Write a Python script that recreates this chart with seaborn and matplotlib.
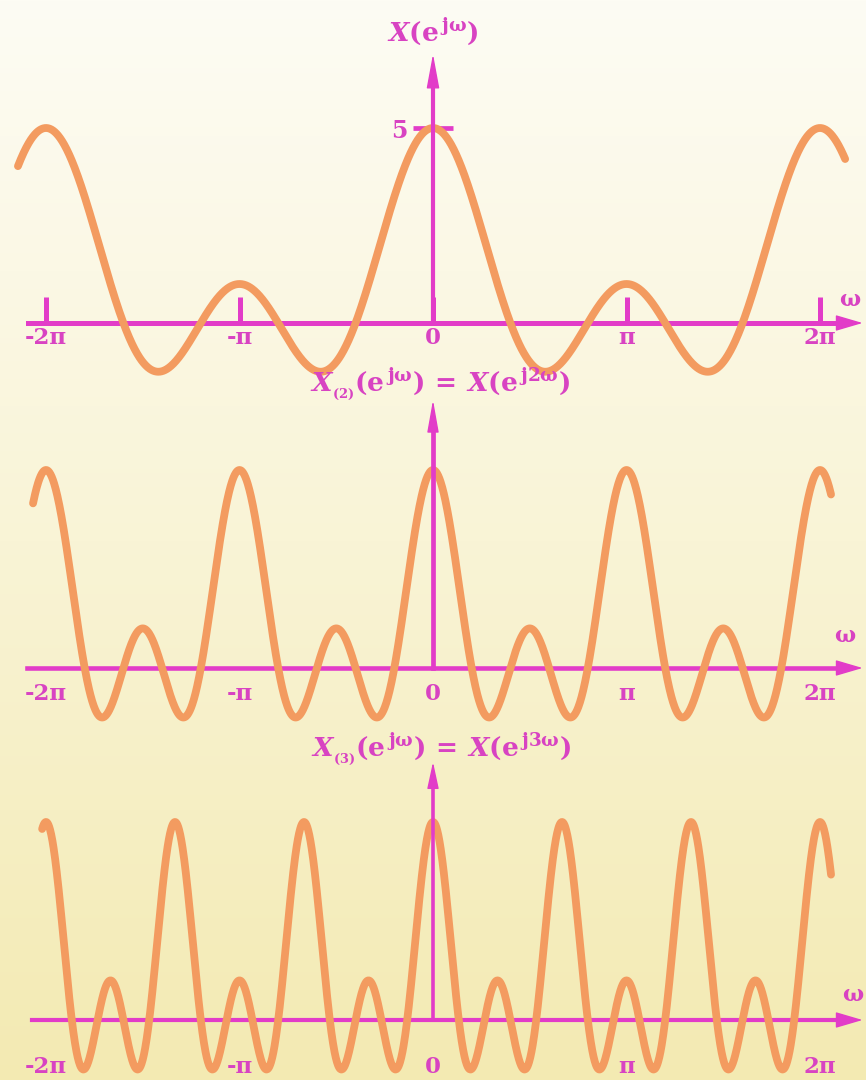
import numpy as np
import pandas as pd
import matplotlib
matplotlib.use("Agg")
import matplotlib.pyplot as plt
import seaborn as sns

# ---------------- data ----------------
# underlying sequence x[n] (rectangular, length 5) whose DTFT is plotted
seq_n = [-2, -1, 0, 1, 2]
seq_x = [1, 1, 1, 1, 1]
# interpolation (zero-insertion) factors of the three panels
factors = [1, 2, 3]
peak_value = 5
tick_pos = [-2, -1, 0, 1, 2]          # in units of pi
tick_labels = ["-2π", "-π", "0", "π", "2π"]
panel_titles = [
    r"$X(\mathrm{e}^{\,\mathrm{j\omega}})$",
    r"$X_{_{(2)}}(\mathrm{e}^{\,\mathrm{j\omega}})\,=\,X(\mathrm{e}^{\,\mathrm{j2\omega}})$",
    r"$X_{_{(3)}}(\mathrm{e}^{\,\mathrm{j\omega}})\,=\,X(\mathrm{e}^{\,\mathrm{j3\omega}})$",
]
axis_name = r"$\mathrm{\omega}$"

# ---------------- style ----------------
sns.set_style("white")
plt.rcParams["font.family"] = ["DejaVu Serif"]
plt.rcParams["font.weight"] = "bold"
plt.rcParams["mathtext.fontset"] = "custom"
plt.rcParams["mathtext.rm"] = "DejaVu Serif:bold"
plt.rcParams["mathtext.it"] = "DejaVu Serif:italic:bold"
plt.rcParams["mathtext.bf"] = "DejaVu Serif:bold"

CURVE = "#F39B60"
AXIS = "#E23CC8"
TEXT = "#D843C2"

W, H = 866, 1080
fig = plt.figure(figsize=(W / 100, H / 100), dpi=100)

# background gradient
rows = np.arange(H)
bg = np.zeros((H, W, 3))
for c, stops in enumerate([(253, 249, 243), (252, 244, 234), (244, 214, 178)]):
    col = np.interp(rows, [0, 540, H - 1], stops) / 255.0
    bg[:, :, c] = col[:, None]
fig.figimage(bg, xo=0, yo=0, origin="upper", zorder=-10)

PX_PER_PI = 193.5
X0 = 433
xlim = (-X0 / PX_PER_PI, (W - X0) / PX_PER_PI)

# layout per panel: pixel rows, axis row, px per unit, etc.
layouts = [
    dict(top=0, bottom=385, axis=323, scale=39.0, curve=(-2.145, 2.13), xstart=-2.093,
         ytip=54, yhead=30, yhw=4.0, xlw=3.6, ylw=3.0, ticklen=18.7, xpad=3,
         title_y=32, title_x=0.0, omega=(850, 300)),
    dict(top=385, bottom=735, axis=668, scale=39.6, curve=(-2.067, 2.057), xstart=-2.098,
         ytip=400, yhead=28, yhw=3.6, xlw=3.3, ylw=3.4, ticklen=0, xpad=11,
         title_y=385, title_x=0.036, omega=(845, 636)),
    dict(top=735, bottom=1080, axis=1020, scale=39.6, curve=(-2.02, 2.057), xstart=-2.07,
         ytip=762, yhead=23, yhw=3.6, xlw=3.0, ylw=2.6, ticklen=0, xpad=26,
         title_y=750, title_x=0.04, omega=(853, 995)),
]

for m, lay, title in zip(factors, layouts, panel_titles):
    ax = fig.add_axes([0, 1 - lay["bottom"] / H, 1, (lay["bottom"] - lay["top"]) / H])
    ax.patch.set_alpha(0)
    sc = lay["scale"]
    ymax = (lay["axis"] - lay["top"]) / sc
    ymin = -(lay["bottom"] - lay["axis"]) / sc
    ax.set_xlim(*xlim)
    ax.set_ylim(ymin, ymax)

    # DTFT of the sequence evaluated at m*omega
    w = np.linspace(lay["curve"][0], lay["curve"][1], 2000)
    Xw = np.zeros_like(w)
    for n, xn in zip(seq_n, seq_x):
        Xw += xn * np.cos(m * np.pi * w * n)
    df = pd.DataFrame({"w": w, "X": Xw})
    sns.lineplot(data=df, x="w", y="X", ax=ax, color=CURVE, linewidth=5.6,
                 solid_capstyle="round", zorder=2, legend=False)
    ax.set_xlabel("")
    ax.set_ylabel("")

    # axes
    for s in ["top", "right"]:
        ax.spines[s].set_visible(False)
    xa_tip = 2.22
    xa_base = xa_tip - 24 / PX_PER_PI
    sb = ax.spines["bottom"]
    sb.set_position(("data", 0))
    sb.set_bounds(lay["xstart"], xa_base + 0.01)
    sb.set_color(AXIS)
    sb.set_linewidth(lay["xlw"])
    sb.set_zorder(1)
    ytip = (lay["axis"] - lay["ytip"]) / sc
    ybase = ytip - lay["yhead"] / sc
    sl = ax.spines["left"]
    sl.set_position(("data", 0))
    sl.set_bounds(0, ybase + 0.05)
    sl.set_color(AXIS)
    sl.set_linewidth(lay["ylw"])
    sl.set_zorder(3)

    ax.annotate("", xy=(xa_tip, 0), xytext=(xa_base, 0),
                arrowprops=dict(arrowstyle="-|>,head_length=17,head_width=5",
                                mutation_scale=1, color=AXIS, lw=1,
                                shrinkA=0, shrinkB=0),
                annotation_clip=False, zorder=1)
    ax.annotate("", xy=(0, ytip), xytext=(0, ybase),
                arrowprops=dict(arrowstyle=f"-|>,head_length={lay['yhead'] * 0.72:.1f},head_width={lay['yhw']}",
                                mutation_scale=1, color=AXIS, lw=1,
                                shrinkA=0, shrinkB=0),
                annotation_clip=False, zorder=3)

    ax.set_xticks(tick_pos, tick_labels)
    ax.tick_params(axis="x", bottom=True, direction="in", length=lay["ticklen"],
                   width=lay["xlw"], color=AXIS, labelcolor=TEXT, labelsize=16.5,
                   pad=lay["xpad"])
    if m == 1:
        ax.set_yticks([peak_value], [str(peak_value)])
        ax.tick_params(axis="y", left=True, direction="inout", length=29, width=3.4,
                       color=AXIS, labelcolor=TEXT, labelsize=17, pad=4)
    else:
        ax.set_yticks([])

    ax.text(lay["title_x"], (lay["axis"] - lay["title_y"]) / sc, title,
            ha="center", va="center", fontsize=19, color=TEXT, clip_on=False)
    ox, oy = lay["omega"]
    ax.text((ox - X0) / PX_PER_PI, (lay["axis"] - oy) / sc, axis_name,
            ha="center", va="center", fontsize=16, color=TEXT, clip_on=False)

fig.savefig("out.png", dpi=100)
